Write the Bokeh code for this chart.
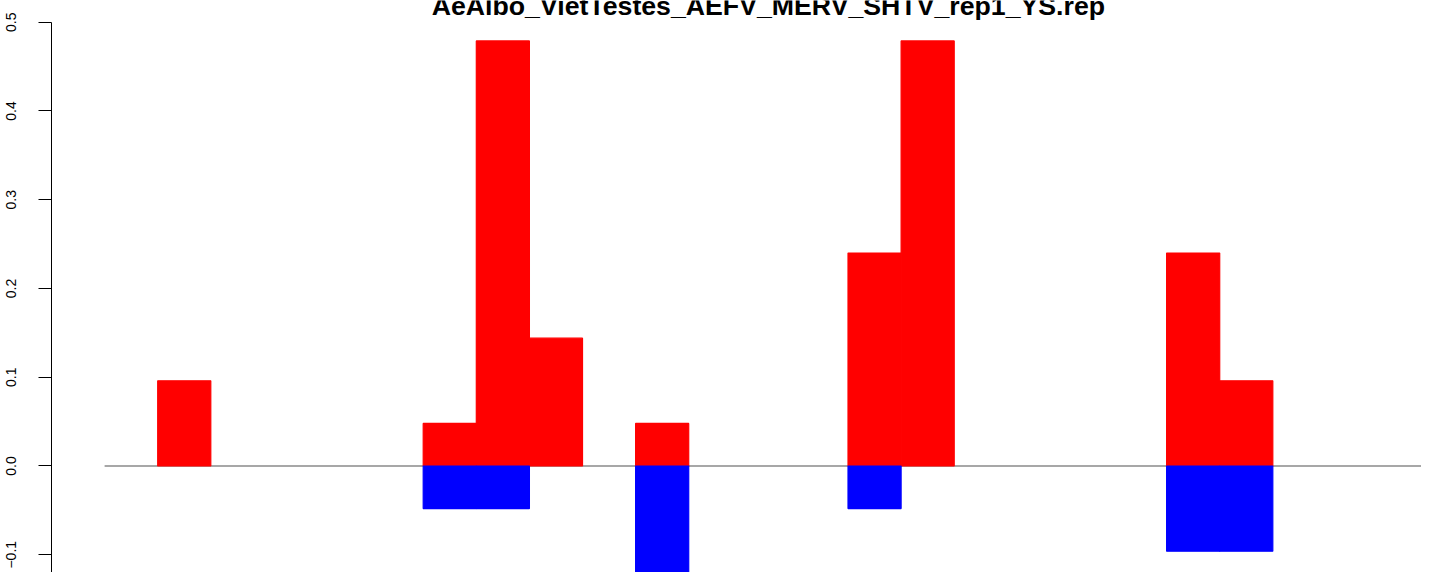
from bokeh.plotting import figure
from bokeh.models import (Range1d, LinearAxis, FixedTicker, CustomJSTickFormatter,
                          Label, ColumnDataSource)
from bokeh.embed import file_html
from bokeh.resources import INLINE

# ---- data ----
title_text = "AeAlbo_VietTestes_AEFV_MERV_SHTV_rep1_YS.rep"
bins = list(range(25))
pos_vals = [0, 0.096, 0, 0, 0, 0, 0.048, 0.479, 0.144, 0, 0.048, 0, 0,
            0, 0.240, 0.479, 0, 0, 0, 0, 0.240, 0.096, 0, 0, 0]
neg_vals = [0, 0, 0, 0, 0, 0, -0.048, -0.048, 0, 0, -0.144, 0, 0,
            0, -0.048, 0, 0, 0, 0, 0, -0.096, -0.096, 0, 0, 0]
y_ticks = [-0.2, -0.1, 0.0, 0.1, 0.2, 0.3, 0.4, 0.5]

n = len(bins)
src = ColumnDataSource(dict(
    x=[b + 0.5 for b in bins],
    pos=pos_vals,
    neg=neg_vals,
    pos_la=[1.0 if v != 0 else 0.0 for v in pos_vals],
    neg_la=[1.0 if v != 0 else 0.0 for v in neg_vals],
))

y_top = 0.5245
p = figure(width=1421, height=572, output_backend="svg", toolbar_location=None,
           x_range=Range1d(-0.04 * n, 24.80), y_range=Range1d(-0.12, y_top),
           x_axis_location=None, y_axis_location=None,
           min_border_left=51, min_border_right=0, min_border_top=0,
           min_border_bottom=0)
p.outline_line_color = None
p.xgrid.visible = False
p.ygrid.visible = False
p.background_fill_color = "white"
p.border_fill_color = "white"

yaxis = LinearAxis(ticker=FixedTicker(ticks=y_ticks), bounds=(-0.2, 0.5))
yaxis.formatter = CustomJSTickFormatter(code="return tick.toFixed(1).replace('-', '\u2212');")
yaxis.major_label_orientation = "vertical"
yaxis.major_label_text_font = "Liberation Sans"
yaxis.major_label_text_font_size = "14px"
yaxis.major_label_text_color = "black"
yaxis.major_tick_out = 13
yaxis.major_tick_in = 0
yaxis.minor_tick_out = 0
yaxis.minor_tick_in = 0
yaxis.major_label_standoff = 22
yaxis.axis_line_color = "black"
yaxis.major_tick_line_color = "black"
p.add_layout(yaxis, "left")

# zero line first, bars drawn over it
p.segment(x0=[0], y0=[0], x1=[n], y1=[0], line_color="#8a8a8a", line_width=1.5)

p.vbar(x="x", width=1.0, top="pos", bottom=0, source=src,
       fill_color="#FF0000", line_color="#FF0000", line_alpha="pos_la",
       line_width=1.2)
p.vbar(x="x", width=1.0, top=0, bottom="neg", source=src,
       fill_color="#0000FF", line_color="#0000FF", line_alpha="neg_la",
       line_width=1.2)

title = Label(x=n / 2, y=y_top, text=title_text, text_align="center",
              text_baseline="alphabetic", y_offset=-5,
              text_font="Liberation Sans", text_font_style="bold",
              text_font_size="26.7px", text_color="black")
p.add_layout(title)

open("out.html", "w").write(file_html(p, INLINE))
